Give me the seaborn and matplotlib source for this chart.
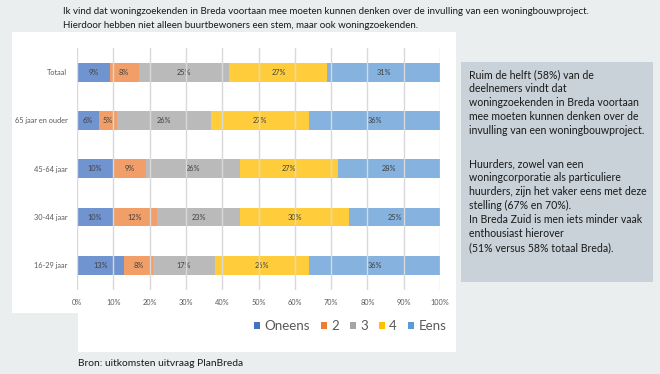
import numpy as np
import pandas as pd
import matplotlib
matplotlib.use("Agg")
import matplotlib.pyplot as plt
from matplotlib.patches import Rectangle, Patch
import seaborn as sns

categories = ["Totaal", "65 jaar en ouder", "45-64 jaar", "30-44 jaar", "16-29 jaar"]
series = ["Oneens", "2", "3", "4", "Eens"]
oneens = [9, 6, 10, 10, 13]
twee = [8, 5, 9, 12, 8]
drie = [25, 26, 26, 23, 17]
vier = [27, 27, 27, 30, 26]
eens = [31, 36, 28, 25, 36]
xticks = [0, 10, 20, 30, 40, 50, 60, 70, 80, 90, 100]

title_lines = ["Ik vind dat woningzoekenden in Breda voortaan mee moeten kunnen denken over de invulling van een woningbouwproject.",
               "Hierdoor hebben niet alleen buurtbewoners een stem, maar ook woningzoekenden."]
box_text1 = ("Ruim de helft (58%) van de\ndeelnemers vindt dat\nwoningzoekenden in Breda voortaan\n"
             "mee moeten kunnen denken over de\ninvulling van een woningbouwproject.")
box_text2 = ("Huurders, zowel van een\nwoningcorporatie als particuliere\nhuurders, zijn het vaker eens met deze\n"
             "stelling (67% en 70%).\nIn Breda Zuid is men iets minder vaak\nenthousiast hierover\n"
             "(51% versus 58% totaal Breda).")
source = "Bron: uitkomsten uitvraag PlanBreda"

bar_colors = ["#7094CF", "#F29E68", "#BABABA", "#FFCD3C", "#85B2DE"]
legend_colors = ["#4472C4", "#ED7D31", "#A5A5A5", "#FFC000", "#5B9BD5"]

sns.set_theme(style="white")
plt.rcParams["font.family"] = ["Lato", "DejaVu Sans"]

W, H = 660, 374
fig = plt.figure(figsize=(6.6, 3.74), dpi=100)
fig.patch.set_facecolor("#EAEEEE")

def frect(x0, y0, x1, y1, color):
    fig.patches.append(Rectangle((x0 / W, 1 - y1 / H), (x1 - x0) / W, (y1 - y0) / H,
                                 transform=fig.transFigure, facecolor=color, edgecolor="none", zorder=-5))

frect(12, 32, 455.5, 313, "white")
frect(78, 312, 455.5, 352, "white")
frect(461, 62, 652.5, 282, "#C8D2D8")

ax = fig.add_axes([77 / W, 1 - 289.5 / H, 363 / W, 241.5 / H])
ax.set_facecolor("none")
ax.set_zorder(2)

data = pd.DataFrame({"cat": categories, "Oneens": oneens, "2": twee, "3": drie, "4": vier, "Eens": eens})
vals = data[series].to_numpy(dtype=float)
cum = np.cumsum(vals, axis=1) / 100.0

# stacked bars: largest cumulative first
for i in range(len(series) - 1, -1, -1):
    sns.barplot(x=cum[:, i], y=data["cat"], orient="h", color=bar_colors[i],
                width=0.39, ax=ax, saturation=1, edgecolor="none", linewidth=0, zorder=1)

for r in range(len(categories)):
    for i in range(len(series)):
        v = vals[r, i]
        xc = cum[r, i] - v / 200.0
        ax.text(xc, r, f"{int(round(v))}%", ha="center", va="center", fontsize=5.3,
                color="#404040", zorder=2)

for t in xticks:
    ax.axvline(t / 100.0, color="#D9D9D9", lw=1.0, zorder=3)

ax.set_xlim(0, 1)
ax.set_ylim(len(categories) - 0.5, -0.5)
ax.set_xticks([t / 100 for t in xticks])
ax.set_xticklabels([f"{t}%" for t in xticks], fontsize=5.3, color="#595959")
ax.tick_params(axis="x", length=0, pad=7)
ax.tick_params(axis="y", length=0, pad=7, labelsize=5.3, labelcolor="#595959")
ax.set_xlabel("")
ax.set_ylabel("")
for s in ax.spines.values():
    s.set_visible(False)

handles = [Patch(facecolor=c, edgecolor="none") for c in legend_colors]
fig.legend(handles, series, loc="center", bbox_to_anchor=(350 / W, 1 - 326 / H), ncol=5,
           frameon=False, fontsize=9.6, handlelength=0.45, handleheight=0.45, handletextpad=0.35,
           columnspacing=0.8, labelcolor="#595959")

fig.text(63 / W, 1 - 12 / H, title_lines[0], fontsize=7.0, color="#1a1a1a", va="center", ha="left")
fig.text(63 / W, 1 - 26 / H, title_lines[1], fontsize=7.0, color="#1a1a1a", va="center", ha="left")

fig.text(469 / W, 1 - 69 / H, box_text1, fontsize=7.6, color="#1a1a1a", va="top", ha="left", linespacing=1.34)
fig.text(469 / W, 1 - 158 / H, box_text2, fontsize=7.6, color="#1a1a1a", va="top", ha="left", linespacing=1.34)

fig.text(78 / W, 1 - 363 / H, source, fontsize=7.4, color="#1a1a1a", va="center", ha="left")

fig.savefig("out.png", dpi=100, facecolor=fig.get_facecolor())
